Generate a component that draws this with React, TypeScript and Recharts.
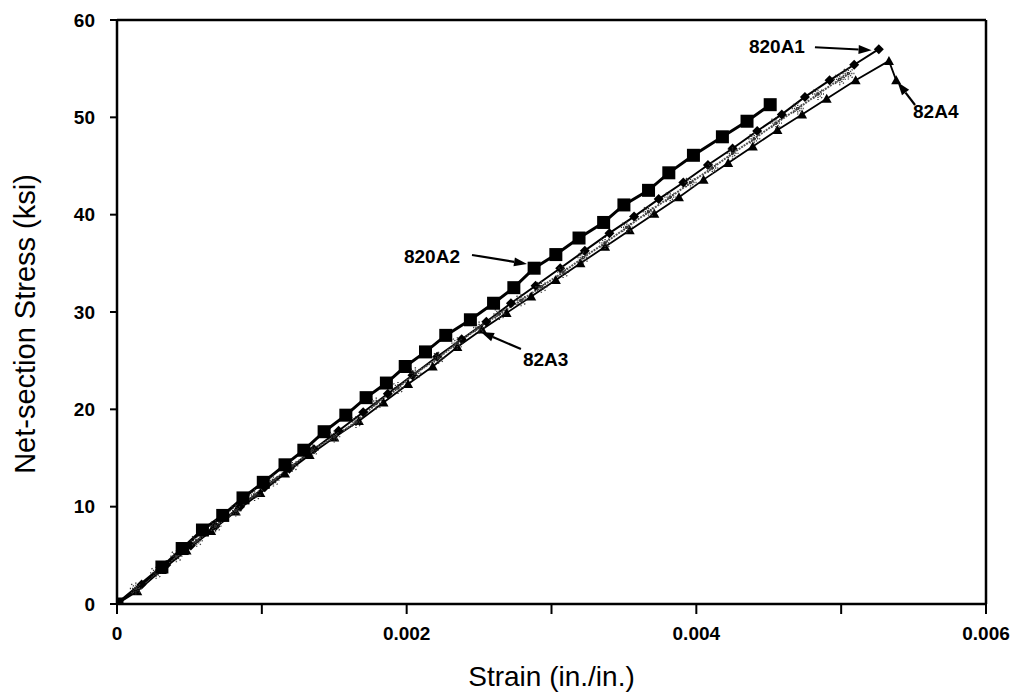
import React from "react";
import { LineChart, Line, XAxis, YAxis, ReferenceLine, Label } from "recharts";

// strain (in./in.) and net-section stress (ksi), per specimen
const strain820A1 = [0, 0.00017, 0.00034, 0.00051, 0.00068, 0.00085, 0.00102, 0.00119, 0.00136, 0.00153, 0.0017, 0.00187, 0.00204, 0.00221, 0.00238, 0.00255, 0.00272, 0.00289, 0.00306, 0.00323, 0.0034, 0.00357, 0.00374, 0.00391, 0.00408, 0.00425, 0.00442, 0.00459, 0.00475, 0.00492, 0.00509, 0.00526];
const stress820A1 = [0, 2.0, 4.0, 6.0, 8.0, 10.0, 12.0, 13.9, 15.9, 17.8, 19.7, 21.6, 23.5, 25.4, 27.2, 29.0, 30.9, 32.7, 34.5, 36.3, 38.1, 39.8, 41.6, 43.3, 45.1, 46.8, 48.6, 50.3, 52.1, 53.8, 55.4, 57.0];

const strain820A2 = [0, 0.00031, 0.00045, 0.00059, 0.00073, 0.00087, 0.00101, 0.00116, 0.00129, 0.00143, 0.00158, 0.00172, 0.00186, 0.00199, 0.00213, 0.00227, 0.00244, 0.0026, 0.00274, 0.00288, 0.00303, 0.00319, 0.00336, 0.0035, 0.00367, 0.00381, 0.00398, 0.00418, 0.00435, 0.00451];
const stress820A2 = [0, 3.8, 5.7, 7.6, 9.1, 10.9, 12.5, 14.3, 15.8, 17.7, 19.4, 21.2, 22.7, 24.4, 25.9, 27.6, 29.2, 30.9, 32.5, 34.5, 35.9, 37.6, 39.2, 41.0, 42.5, 44.3, 46.1, 48.0, 49.6, 51.3];

const strain82A3 = [0, 0.00013, 0.00027, 0.00041, 0.00055, 0.00068, 0.00082, 0.00095, 0.00108, 0.00121, 0.00135, 0.0015, 0.00165, 0.00179, 0.00194, 0.00206, 0.00222, 0.00235, 0.0025, 0.00264, 0.00279, 0.00293, 0.00308, 0.00322, 0.00337, 0.00352, 0.00367, 0.00382, 0.00396, 0.00411, 0.00425, 0.0044, 0.00455, 0.0047, 0.00484, 0.00499, 0.00505];
const stress82A3 = [0, 1.6, 3.2, 4.9, 6.5, 8.0, 9.6, 11.2, 12.7, 14.2, 15.8, 17.2, 18.7, 20.6, 22.2, 23.7, 25.3, 26.8, 28.4, 29.8, 31.2, 32.6, 34.1, 35.6, 37.1, 38.7, 40.3, 41.8, 43.3, 44.8, 46.3, 47.8, 49.4, 50.9, 52.4, 53.9, 54.5];

const strain82A4 = [0, 0.00014, 0.00031, 0.00048, 0.00065, 0.00082, 0.00099, 0.00116, 0.00133, 0.0015, 0.00167, 0.00184, 0.00201, 0.00218, 0.00235, 0.00252, 0.00269, 0.00286, 0.00303, 0.0032, 0.00337, 0.00354, 0.00371, 0.00388, 0.00405, 0.00422, 0.00439, 0.00456, 0.00473, 0.0049, 0.0051, 0.00533, 0.00538];
const stress82A4 = [0, 1.3, 3.5, 5.5, 7.5, 9.5, 11.4, 13.4, 15.3, 17.1, 18.8, 20.7, 22.6, 24.4, 26.4, 28.2, 29.9, 31.6, 33.3, 35.0, 36.7, 38.4, 40.1, 41.8, 43.6, 45.3, 47.0, 48.7, 50.3, 51.9, 53.8, 55.8, 53.8];

const xTicks = [0, 0.001, 0.002, 0.003, 0.004, 0.005, 0.006];
const xTickLabels = ["0", "", "0.002", "", "0.004", "", "0.006"];
const yTicks = [0, 10, 20, 30, 40, 50, 60];

// callouts: label, arrow tail and tip in data units
const callouts = [
  { text: "820A1", from: [0.004819, 57.2], to: [0.00521, 56.9], anchor: "end", dx: -10, dy: -1 },
  { text: "820A2", from: [0.002451, 35.86], to: [0.002831, 34.93], anchor: "end", dx: -12, dy: 2 },
  { text: "82A3", from: [0.002789, 26.2], to: [0.002513, 27.95], anchor: "start", dx: 2, dy: 11 },
  { text: "82A4", from: [0.00551, 51.27], to: [0.00539, 53.6], anchor: "start", dx: -2, dy: 7 },
];

const toPoints = (xs: number[], ys: number[]) => xs.map((x, i) => ({ strain: x, stress: ys[i] }));

const data820A1 = toPoints(strain820A1, stress820A1);
const data820A2 = toPoints(strain820A2, stress820A2);
const data82A3 = toPoints(strain82A3, stress82A3);
const data82A4 = toPoints(strain82A4, stress82A4);

const FONT = "'Liberation Sans', Arial, Helvetica, sans-serif";

const squareDot = (p: any) => {
  const { cx, cy, index } = p;
  if (cx == null || cy == null) return <g key={`s${index}`} />;
  return <rect key={`s${index}`} x={cx - 6.5} y={cy - 6.5} width={13} height={13} fill="#000" />;
};

const diamondDot = (p: any) => {
  const { cx, cy, index } = p;
  if (cx == null || cy == null) return <g key={`d${index}`} />;
  return (
    <polygon
      key={`d${index}`}
      points={`${cx},${cy - 5} ${cx + 5},${cy} ${cx},${cy + 5} ${cx - 5},${cy}`}
      fill="#000"
    />
  );
};

const triangleDot = (p: any) => {
  const { cx, cy, index } = p;
  if (cx == null || cy == null) return <g key={`t${index}`} />;
  return (
    <polygon
      key={`t${index}`}
      points={`${cx},${cy - 5} ${cx + 5},${cy + 4} ${cx - 5},${cy + 4}`}
      fill="#000"
    />
  );
};

const hatchDot = (p: any) => {
  const { cx, cy, index } = p;
  if (cx == null || cy == null) return <g key={`h${index}`} />;
  return (
    <g key={`h${index}`} stroke="#333" strokeWidth={1.4} strokeDasharray="1.2 1">
      <line x1={cx - 6} y1={cy} x2={cx + 6} y2={cy} />
      <line x1={cx} y1={cy - 6} x2={cx} y2={cy + 6} />
      <line x1={cx - 4.5} y1={cy - 4.5} x2={cx + 4.5} y2={cy + 4.5} />
      <line x1={cx - 4.5} y1={cy + 4.5} x2={cx + 4.5} y2={cy - 4.5} />
    </g>
  );
};

function renderCallout(p: any, c: (typeof callouts)[number]) {
  const { x1, y1, x2, y2 } = p;
  const ang = Math.atan2(y2 - y1, x2 - x1);
  const len = 13;
  const w = 4.5;
  const bx = x2 - len * Math.cos(ang);
  const by = y2 - len * Math.sin(ang);
  const px = -Math.sin(ang) * w;
  const py = Math.cos(ang) * w;
  return (
    <g>
      <line x1={x1} y1={y1} x2={bx} y2={by} stroke="#000" strokeWidth={2.2} />
      <polygon points={`${x2},${y2} ${bx + px},${by + py} ${bx - px},${by - py}`} fill="#000" />
      <text
        x={x1 + c.dx}
        y={y1 + c.dy}
        textAnchor={c.anchor}
        dominantBaseline="central"
        fontSize={19}
        fontWeight="bold"
        fontFamily={FONT}
        fill="#000"
      >
        {c.text}
      </text>
    </g>
  );
}

const yTitle = (props: any) => {
  const vb = props.viewBox;
  const x = vb.x + 17;
  const y = vb.y + vb.height / 2 + 12;
  return (
    <text
      x={x}
      y={y}
      transform={`rotate(-90, ${x}, ${y})`}
      textAnchor="middle"
      dominantBaseline="central"
      fontSize={29}
      fontFamily={FONT}
      fill="#000"
    >
      Net-section Stress (ksi)
    </text>
  );
};

const xTitle = (props: any) => {
  const vb = props.viewBox;
  return (
    <text
      x={vb.x + vb.width / 2}
      y={vb.y + 72}
      textAnchor="middle"
      dominantBaseline="central"
      fontSize={28}
      fontFamily={FONT}
      fill="#000"
    >
      Strain (in./in.)
    </text>
  );
};

const tickStyle = { fill: "#000", fontSize: 19, fontWeight: "bold", fontFamily: FONT };

export default function App() {
  return (
    <div style={{ width: 1010, height: 690, background: "#fff", fontFamily: FONT }}>
      <LineChart width={1010} height={690} margin={{ top: 12, right: 32, bottom: 0, left: 0 }}>
        <XAxis
          dataKey="strain"
          type="number"
          domain={[0, 0.006]}
          ticks={xTicks}
          tickFormatter={(_v: number, i: number) => xTickLabels[i]}
          allowDataOverflow
          height={94}
          tickSize={10}
          tickMargin={13}
          axisLine={{ stroke: "#000", strokeWidth: 2.5 }}
          tickLine={{ stroke: "#000", strokeWidth: 2 }}
          tick={tickStyle}
          interval={0}
        >
          <Label content={xTitle} />
        </XAxis>
        <YAxis
          dataKey="stress"
          type="number"
          domain={[0, 60]}
          ticks={yTicks}
          allowDataOverflow
          width={109}
          tickSize={7}
          tickMargin={15}
          axisLine={{ stroke: "#000", strokeWidth: 2.5 }}
          tickLine={{ stroke: "#000", strokeWidth: 2 }}
          tick={tickStyle}
          interval={0}
        >
          <Label content={yTitle} />
        </YAxis>
        <ReferenceLine y={60} stroke="#000" strokeWidth={2.5} />
        <ReferenceLine x={0.006} stroke="#000" strokeWidth={2.5} />

        <Line
          data={data82A4}
          dataKey="stress"
          type="linear"
          stroke="#000"
          strokeWidth={1.8}
          dot={triangleDot}
          activeDot={false}
          isAnimationActive={false}
        />
        <Line
          data={data820A1}
          dataKey="stress"
          type="linear"
          stroke="#000"
          strokeWidth={2}
          dot={diamondDot}
          activeDot={false}
          isAnimationActive={false}
        />
        <Line
          data={data82A3}
          dataKey="stress"
          type="linear"
          stroke="#555"
          strokeWidth={2}
          strokeDasharray="2 1"
          dot={hatchDot}
          activeDot={false}
          isAnimationActive={false}
        />
        <Line
          data={data820A2}
          dataKey="stress"
          type="linear"
          stroke="#000"
          strokeWidth={3}
          dot={squareDot}
          activeDot={false}
          isAnimationActive={false}
        />

        {callouts.map((c) => (
          <ReferenceLine
            key={c.text}
            segment={[
              { x: c.from[0], y: c.from[1] },
              { x: c.to[0], y: c.to[1] },
            ]}
            shape={(p: any) => renderCallout(p, c)}
          />
        ))}
      </LineChart>
    </div>
  );
}
